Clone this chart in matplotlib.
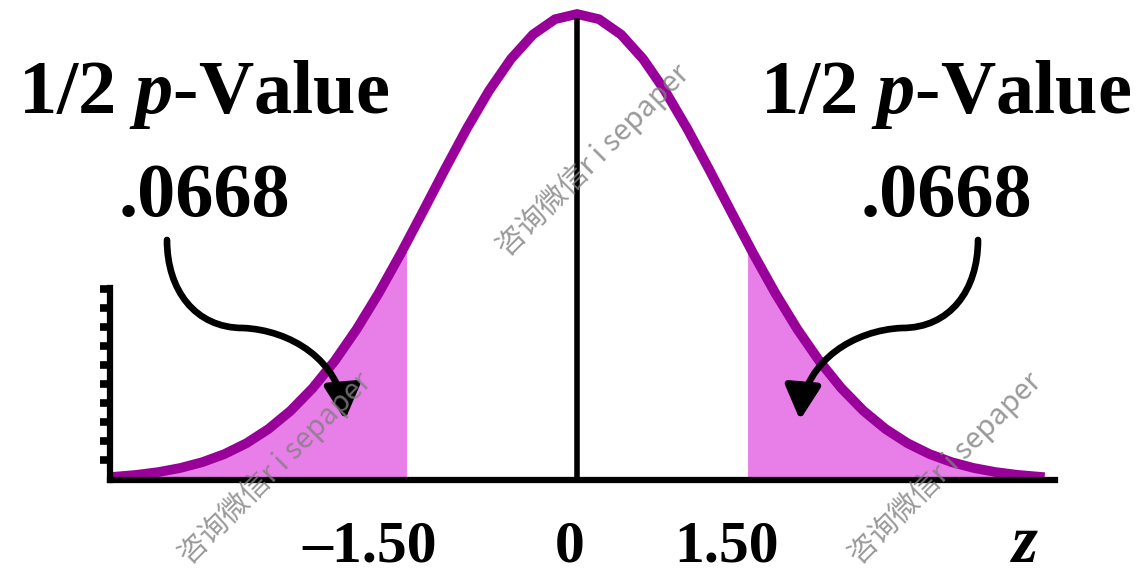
import numpy as np
import matplotlib.pyplot as plt
from matplotlib.patches import FancyArrowPatch
from matplotlib.path import Path

# ==========================================
# Values
# ==========================================
z_crit = 1.50            # critical z on either side
half_p = 0.0668          # area of each tail
tick_labels = ['\u20131.50', '0', '1.50']
curve_sigma = 1.29       # spread of the drawn bell (in z units of the picture)
curve_range = 4.07       # bell drawn from -range to +range
n_left_ticks = 10

purple = '#990099'
pink = '#E87EE8'

plt.rcParams.update({
    'font.family': 'Liberation Serif',
    'font.weight': 'bold',
    'mathtext.fontset': 'custom',
    'mathtext.it': 'Liberation Serif:italic:bold',
    'mathtext.rm': 'Liberation Serif:bold',
})

W, H = 1140, 574
fig = plt.figure(figsize=(W / 100, H / 100), dpi=100)
ax = fig.add_axes([0, 0, 1, 1])

# pixel layout of the picture -> data
x0_px, unit_px = 577, 113.7
base_px, peak_px = 480, 466
ax.set_xlim((0 - x0_px) / unit_px, (W - x0_px) / unit_px)
ax.set_ylim((base_px - H) / peak_px, base_px / peak_px)

def fx(x):
    return x / W

def fy(y):
    return 1 - y / H

def bell(x):
    return np.exp(-0.5 * (x / curve_sigma) ** 2)

# ---- curve and tails ----
x = np.linspace(-curve_range, curve_range, 43)
xl = np.linspace(-curve_range, -z_crit, 40)
xr = np.linspace(z_crit, curve_range, 40)
ax.fill_between(xl, 0, bell(xl), color=pink, lw=0, zorder=1)
ax.fill_between(xr, 0, bell(xr), color=pink, lw=0, zorder=1)
ax.plot(x, bell(x), color=purple, lw=7, solid_joinstyle='miter', zorder=2)
ax.plot([0, 0], [0, 0.985], color='black', lw=4, zorder=3)

# ---- axes ----
left_x = (110 - x0_px) / unit_px
right_x = (1055 - x0_px) / unit_px
for s in ['top', 'right']:
    ax.spines[s].set_visible(False)
ax.spines['left'].set_position(('data', left_x))
ax.spines['left'].set_bounds(0, 0.412)
ax.spines['left'].set_linewidth(4.5)
ax.spines['bottom'].set_position(('data', 0))
ax.spines['bottom'].set_bounds(left_x, right_x)
ax.spines['bottom'].set_linewidth(4.5)
ax.set_xticks([])
ax.set_yticks(np.linspace(0.043, 0.41, n_left_ticks))
ax.tick_params(axis='y', direction='out', length=7.5, width=5.5, labelleft=False)
ax.patch.set_visible(False)

# ---- labels ----
ax.text(fx(370), fy(561), tick_labels[0], transform=ax.transAxes, ha='center', va='baseline', fontsize=43)
ax.text(fx(570), fy(561), tick_labels[1], transform=ax.transAxes, ha='center', va='baseline', fontsize=43)
ax.text(fx(727), fy(561), tick_labels[2], transform=ax.transAxes, ha='center', va='baseline', fontsize=43)
ax.text(fx(1025), fy(562), '$z$', transform=ax.transAxes, ha='center', va='baseline', fontsize=48)

for cx in [204, 946]:
    ax.text(fx(cx), fy(113), '1/2 $p$-Value', transform=ax.transAxes,
            ha='center', va='baseline', fontsize=55)
    ax.text(fx(cx), fy(216), f'{half_p:.4f}'.lstrip('0'), transform=ax.transAxes,
            ha='center', va='baseline', fontsize=55)

# ---- curved arrows ----
left_pts = [(167, 240), (167, 290), (195, 328), (243, 328),
            (290, 330), (340, 360), (345, 420)]
codes = [Path.MOVETO] + [Path.CURVE4] * 6
for mirror in [False, True]:
    pts = [((1145 - px) if mirror else px, py) for px, py in left_pts]
    verts = [(fx(px), fy(py)) for px, py in pts]
    arr = FancyArrowPatch(path=Path(verts, codes), transform=ax.transAxes,
                          arrowstyle='-|>,head_length=1.7,head_width=0.9',
                          mutation_scale=12, lw=4.8, color='black', zorder=5)
    ax.add_artist(arr)

# ---- watermarks ----
for cx, cy in [(593, 160), (275, 468), (945, 468)]:
    ax.text(fx(cx), fy(cy), '咨询微信r i sepaper', transform=ax.transAxes,
            rotation=45, ha='center', va='center', fontsize=21, fontweight='normal',
            color='gray', alpha=0.8, family=['Noto Sans CJK SC', 'DejaVu Sans'],
            zorder=6)

plt.savefig('out.png', dpi=100)
